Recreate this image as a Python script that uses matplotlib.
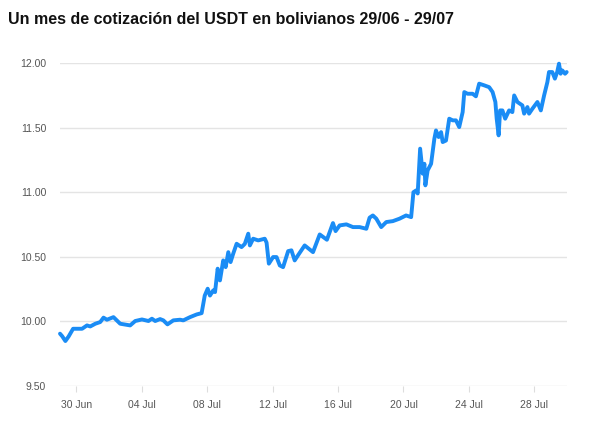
import numpy as np
import pandas as pd
import matplotlib
matplotlib.use('Agg')
import matplotlib.pyplot as plt
import matplotlib.dates as mdates

# days since 29 Jun 00:00 and price in BOB per USDT
days = [0.0, 0.13, 0.33, 0.53, 0.80, 1.35, 1.65, 1.85, 2.16, 2.46,
        2.66, 2.87, 3.27, 3.68, 4.29, 4.60, 5.01, 5.41, 5.62, 5.82,
        6.12, 6.32, 6.57, 6.93, 7.34, 7.54, 7.95, 8.36, 8.66, 8.85,
        9.03, 9.17, 9.37, 9.48, 9.64, 9.78, 9.98, 10.13, 10.29, 10.43,
        10.59, 10.80, 11.10, 11.30, 11.51, 11.61, 11.81, 12.12, 12.52, 12.63,
        12.77, 13.03, 13.24, 13.44, 13.64, 13.95, 14.15, 14.35, 14.55, 14.96,
        15.47, 15.88, 16.32, 16.69, 16.85, 17.10, 17.51, 17.91, 18.32, 18.73,
        18.93, 19.13, 19.34, 19.64, 19.95, 20.35, 20.76, 21.16, 21.47, 21.61,
        21.78, 21.87, 22.02, 22.18, 22.28, 22.34, 22.48, 22.69, 22.89, 22.99,
        23.15, 23.30, 23.40, 23.60, 23.80, 24.01, 24.21, 24.41, 24.62, 24.72,
        24.92, 25.23, 25.43, 25.63, 25.94, 26.24, 26.45, 26.62, 26.70, 26.82,
        26.91, 27.05, 27.22, 27.46, 27.66, 27.77, 27.97, 28.27, 28.38, 28.58,
        28.68, 28.89, 29.19, 29.40, 29.60, 29.80, 29.90, 30.10, 30.26, 30.40,
        30.51, 30.61, 30.71, 30.88, 30.98]
price = [9.905, 9.886, 9.848, 9.884, 9.943, 9.943, 9.969, 9.961, 9.982, 9.995,
         10.029, 10.013, 10.033, 9.982, 9.969, 10.003, 10.015, 10.003, 10.021, 10.003,
         10.018, 10.008, 9.977, 10.008, 10.013, 10.008, 10.033, 10.054, 10.064, 10.20,
         10.253, 10.20, 10.24, 10.227, 10.408, 10.317, 10.472, 10.42, 10.536, 10.459,
         10.524, 10.601, 10.575, 10.60, 10.679, 10.588, 10.64, 10.627, 10.64, 10.61,
         10.447, 10.498, 10.498, 10.433, 10.42, 10.544, 10.55, 10.472, 10.511, 10.588,
         10.536, 10.673, 10.632, 10.761, 10.699, 10.743, 10.751, 10.73, 10.73, 10.717,
         10.803, 10.82, 10.795, 10.73, 10.769, 10.776, 10.795, 10.82, 10.807, 11.0,
         11.014, 10.99, 11.337, 11.143, 11.22, 11.053, 11.169, 11.22, 11.414, 11.478,
         11.427, 11.465, 11.388, 11.40, 11.569, 11.556, 11.556, 11.504, 11.62, 11.775,
         11.762, 11.762, 11.742, 11.84, 11.827, 11.813, 11.775, 11.698, 11.57, 11.44,
         11.633, 11.633, 11.569, 11.633, 11.62, 11.749, 11.698, 11.672, 11.608, 11.659,
         11.608, 11.647, 11.698, 11.633, 11.749, 11.852, 11.93, 11.93, 11.879, 11.93,
         11.995, 11.917, 11.943, 11.917, 11.93]

tick_days = ['2024-06-30', '2024-07-04', '2024-07-08', '2024-07-12',
             '2024-07-16', '2024-07-20', '2024-07-24', '2024-07-28']
yticks = [9.5, 10.0, 10.5, 11.0, 11.5, 12.0]

start = pd.Timestamp('2024-06-29')
end = pd.Timestamp('2024-07-30')
dates = start + pd.to_timedelta(days, unit='D')

plt.rcParams['font.family'] = ['Liberation Sans', 'DejaVu Sans']

fig = plt.figure(figsize=(5.9, 4.26), dpi=100)
ax = fig.add_axes([60 / 590, 40 / 426, 507 / 590, 323 / 426])

ax.plot(dates, price, color='#1a8cf5', lw=2.8, solid_joinstyle='round',
        solid_capstyle='round', clip_on=False, zorder=3)

ax.set_xlim(start, end)
ax.set_ylim(9.5, 12.0)
ax.set_yticks(yticks)
ax.set_yticklabels(['%.2f' % v for v in yticks])
ax.grid(axis='y', color='#e4e4e4', lw=1)
for s in ax.spines.values():
    s.set_visible(False)

ax.set_xticks(pd.to_datetime(tick_days))
ax.xaxis.set_major_formatter(mdates.DateFormatter('%d %b'))
ax.tick_params(axis='x', length=4, color='#dddddd', labelsize=7.5,
               labelcolor='#555555', pad=6)
ax.tick_params(axis='y', length=0, labelsize=7.5, labelcolor='#555555', pad=10)

fig.text(8 / 590, 1 - 20 / 426,
         'Un mes de cotización del USDT en bolivianos 29/06 - 29/07',
         fontsize=11.5, fontweight='bold', va='center', ha='left', color='#111111')

fig.savefig('out.png', dpi=100)
